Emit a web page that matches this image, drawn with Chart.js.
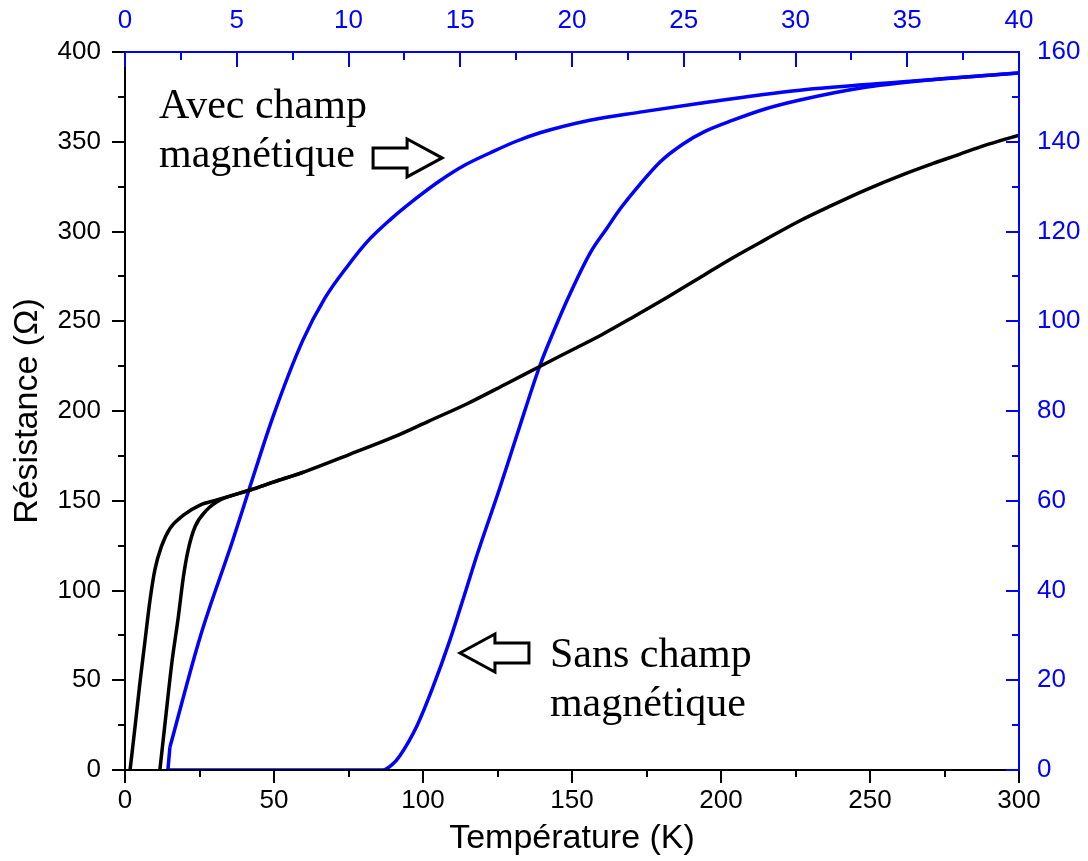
<!DOCTYPE html>
<html>
<head>
<meta charset="utf-8">
<script src="https://cdn.jsdelivr.net/npm/chart.js@4"></script>
<style>
  body { margin: 0; background: #fff; }
  #box { width: 1088px; height: 861px; }
</style>
</head>
<body>
<div id="box"><canvas id="graphe"></canvas></div>
<script>
// courbes noires : axe du bas (K) / axe de gauche (Ohm)
const tempNoir1 = [1.7, 3.5, 5, 6.5, 8.4, 10, 12.2, 15.1, 19.6, 25.2, 30.8, 36, 42, 50, 60, 75, 90, 102, 115, 128, 140, 150, 160, 171, 182, 193, 204, 215, 226, 237, 249, 260, 271, 280, 288, 300];
const resNoir1 = [0, 26, 48.5, 69, 94.7, 111.4, 124.4, 134.6, 142, 147.6, 150.4, 153, 156, 160.5, 166, 175.6, 185.4, 194.4, 204.2, 215.2, 225.5, 234, 242.5, 252.8, 263.4, 274.4, 285.4, 295.6, 305.6, 314.4, 323.5, 331, 337.8, 343, 347.7, 353.7];
const tempNoir2 = [11.7, 13.5, 15.7, 17.9, 19.6, 21.2, 23.5, 27.4, 31.9, 36, 42, 50, 60];
const resNoir2 = [0, 27, 59.4, 85.4, 107.7, 122.6, 135.5, 144.8, 150.4, 153, 156, 160.5, 166];

// courbes bleues : axe du haut / axe de droite
const tPied = [1.92, 2.01];
const rPied = [0, 5.1];
const tAvec = [2.01, 3.36, 4.83, 5.59, 6.62, 7.96, 8.95, 9.93, 10.87, 11.86, 12.98, 14.09, 15.21, 16.33, 17.45, 18.57, 20.8, 23.04, 25.73, 30.2, 34.68, 40];
const rAvec = [5.1, 29.6, 51.3, 63.1, 78.7, 95.8, 105.2, 112.1, 117.9, 122.6, 127.2, 131.3, 134.8, 137.5, 140, 142, 144.8, 146.6, 148.6, 151.5, 153.3, 155.3];
const tSans = [1.92, 11.54, 11.95, 12.3, 13.06, 13.78, 14.54, 15.3, 15.75, 16.78, 17.54, 18.57, 19.15, 19.78, 20.81, 21.57, 22.15, 23.04, 23.94, 24.97, 25.95, 27.2, 28.64, 30.2, 33.2, 36.47, 40];
const rSans = [0, 0, 1.2, 3.2, 9.8, 18.5, 29, 40.8, 47.9, 63, 74.7, 90.2, 97.4, 104.7, 115.2, 120.8, 125, 130.5, 135.5, 139.5, 142.3, 144.8, 147.3, 149.3, 152.2, 154, 155.3];

const BLEU = '#0000ff';
const NOIR = '#000000';

function points(xs, ys) {
    return xs.map((x, i) => ({ x: x, y: ys[i] }));
}

function serie(xs, ys, couleur, xId, yId) {
    return {
        data: points(xs, ys),
        borderColor: couleur,
        borderWidth: 3.5,
        pointRadius: 0,
        fill: false,
        cubicInterpolationMode: 'monotone',
        borderJoinStyle: 'round',
        xAxisID: xId,
        yAxisID: yId
    };
}

// textes et flèches (coordonnées en K / Ohm)
const notes = [
    { lignes: ['Avec champ', 'magnétique'], x: 11.4, y: 363 },
    { lignes: ['Sans champ', 'magnétique'], x: 142.6, y: 57.4 }
];
const fleches = [
    { x: 106.4, y: 341, sens: 1 },
    { x: 112.4, y: 65.2, sens: -1 }
];

// axes et graduations dessinés à la main (graduations mineures)
const axesPlugin = {
    id: 'axes',
    afterDatasetsDraw(chart) {
        const ctx = chart.ctx;
        const a = chart.chartArea;
        const s = chart.scales;
        ctx.save();
        ctx.lineWidth = 2;
        ctx.lineCap = 'butt';

        // gauche
        ctx.strokeStyle = NOIR;
        ctx.beginPath();
        ctx.moveTo(a.left, a.top); ctx.lineTo(a.left, a.bottom);
        for (let v = 0; v <= 400; v += 25) {
            const p = Math.round(s.y.getPixelForValue(v));
            const l = v % 50 === 0 ? 13 : 7;
            ctx.moveTo(a.left - l, p); ctx.lineTo(a.left, p);
        }
        ctx.stroke();

        // bas
        ctx.beginPath();
        ctx.moveTo(a.left - 1, a.bottom); ctx.lineTo(a.right, a.bottom);
        for (let v = 0; v <= 300; v += 25) {
            const p = Math.round(s.x.getPixelForValue(v));
            const l = v % 50 === 0 ? 13 : 7;
            ctx.moveTo(p, a.bottom); ctx.lineTo(p, a.bottom + l);
        }
        ctx.stroke();

        // haut
        ctx.strokeStyle = BLEU;
        ctx.beginPath();
        ctx.moveTo(a.left, a.top); ctx.lineTo(a.right + 1, a.top);
        for (let v = 0; v <= 40; v += 2.5) {
            const p = Math.round(s.x2.getPixelForValue(v));
            const l = v % 5 === 0 ? 15 : 8;
            ctx.moveTo(p, a.top); ctx.lineTo(p, a.top + l);
        }
        ctx.stroke();

        // droite
        ctx.beginPath();
        ctx.moveTo(a.right, a.top); ctx.lineTo(a.right, a.bottom + 1);
        for (let v = 0; v <= 160; v += 10) {
            const p = Math.round(s.y2.getPixelForValue(v));
            const l = v % 20 === 0 ? 13 : 7;
            ctx.moveTo(a.right - l, p); ctx.lineTo(a.right, p);
        }
        ctx.stroke();

        // annotations
        ctx.fillStyle = NOIR;
        ctx.font = '42px "Liberation Serif", "Times New Roman", serif';
        ctx.textAlign = 'left';
        ctx.textBaseline = 'alphabetic';
        notes.forEach(n => {
            const px = s.x.getPixelForValue(n.x);
            const py = s.y.getPixelForValue(n.y);
            n.lignes.forEach((t, i) => ctx.fillText(t, px, py + i * 49));
        });

        ctx.strokeStyle = NOIR;
        ctx.lineWidth = 3;
        ctx.lineJoin = 'miter';
        fleches.forEach(f => {
            const tx = s.x.getPixelForValue(f.x);
            const ty = s.y.getPixelForValue(f.y);
            const hb = tx - f.sens * 35;
            const fin = tx - f.sens * 69;
            ctx.beginPath();
            ctx.moveTo(tx, ty);
            ctx.lineTo(hb, ty - 19);
            ctx.lineTo(hb, ty - 10);
            ctx.lineTo(fin, ty - 10);
            ctx.lineTo(fin, ty + 10);
            ctx.lineTo(hb, ty + 10);
            ctx.lineTo(hb, ty + 19);
            ctx.closePath();
            ctx.stroke();
        });
        ctx.restore();
    }
};

const police = { family: '"Liberation Sans", Arial, sans-serif', size: 26 };
const policeTitre = { family: police.family, size: 34 };
const sansGrille = { display: false, drawTicks: false };

new Chart(document.getElementById('graphe'), {
    type: 'line',
    data: {
        datasets: [
            serie(tempNoir1, resNoir1, NOIR, 'x', 'y'),
            serie(tempNoir2, resNoir2, NOIR, 'x', 'y'),
            serie(tPied, rPied, BLEU, 'x2', 'y2'),
            serie(tAvec, rAvec, BLEU, 'x2', 'y2'),
            serie(tSans, rSans, BLEU, 'x2', 'y2')
        ]
    },
    options: {
        responsive: true,
        maintainAspectRatio: false,
        animation: false,
        layout: { padding: 0 },
        plugins: {
            legend: { display: false },
            tooltip: { enabled: false }
        },
        scales: {
            x: {
                type: 'linear', position: 'bottom', min: 0, max: 300,
                grid: sansGrille, border: { display: false },
                ticks: { stepSize: 50, color: NOIR, font: police, padding: 15, maxRotation: 0 },
                title: {
                    display: true, text: 'Température (K)', color: NOIR,
                    font: policeTitre, padding: { top: 0, bottom: 2 }
                },
                afterFit: sc => { sc.height = 91; }
            },
            x2: {
                type: 'linear', position: 'top', min: 0, max: 40,
                grid: sansGrille, border: { display: false },
                ticks: { stepSize: 5, color: BLEU, font: police, padding: 16, maxRotation: 0 },
                afterFit: sc => { sc.height = 52; }
            },
            y: {
                type: 'linear', position: 'left', min: 0, max: 400,
                grid: sansGrille, border: { display: false },
                ticks: { stepSize: 50, color: NOIR, font: police, padding: 24 },
                title: {
                    display: true, text: 'Résistance (Ω)', color: NOIR,
                    font: policeTitre, padding: { top: 7, bottom: 0 }
                },
                afterFit: sc => { sc.width = 125; }
            },
            y2: {
                type: 'linear', position: 'right', min: 0, max: 160,
                grid: sansGrille, border: { display: false },
                ticks: { stepSize: 20, color: BLEU, font: police, padding: 18 },
                afterFit: sc => { sc.width = 69; }
            }
        }
    },
    plugins: [axesPlugin]
});
</script>
</body>
</html>
